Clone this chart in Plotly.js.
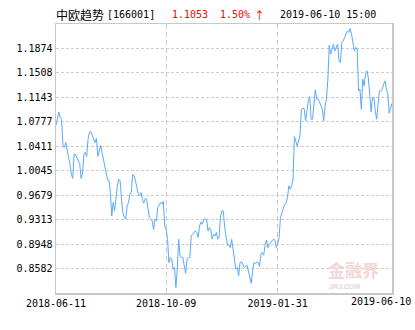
<!DOCTYPE html>
<html>
<head>
<meta charset="utf-8">
<script src="https://cdn.plot.ly/plotly-3.0.1.min.js"></script>
<style>html,body{margin:0;padding:0;background:#fff;}#chart{width:415px;height:330px;}</style>
</head>
<body>
<div id="chart"></div>
<script>
// Trading-day index (0 = 2018-06-11, 241 = 2019-06-10)
const day = [0,2,3,4,5,6,7,8,9,10,11,12,13,14,15,16,17,18,19,20,21,22,23,24,25,26,27,28,29,30,
31,32,33,34,35,36,37,38,39,40,41,42,43,44,45,46,47,48,49,50,51,52,53,54,55,56,57,58,59,60,
61,62,63,64,65,66,67,69,70,71,72,73,75,76,77,78,79,80,81,82,83,84,85,86,87,88,89,90,91,92,
93,94,95,96,97,98,100,101,102,103,104,105,106,107,108,109,110,111,112,113,114,115,116,117,118,119,
120,121,122,123,124,125,126,127,128,129,130,131,132,133,134,135,136,137,138,139,140,141,142,143,
144,145,146,147,148,149,150,151,152,153,154,155,156,157,158,159,160,161,162,163,164,165,166,167,
168,169,170,171,172,173,175,176,177,178,179,180,181,182,183,184,185,186,187,188,189,191,192,193,
194,195,196,197,198,199,200,201,202,203,204,205,206,207,208,209,210,211,212,213,214,215,216,217,
218,219,220,221,222,223,224,225,226,227,228,229,230,231,232,233,234,235,236,237,238,239,241];
// Unit NAV values
const nav = [1.0726,1.0925,1.0841,1.0805,1.0416,1.0392,1.0467,1.0318,1.0243,1.0143,0.9993,0.9929,1.0292,1.0292,1.0228,1.0192,1.0153,0.9929,0.9993,1.0292,1.0318,1.0258,1.0517,1.0626,1.0626,1.0566,1.0527,1.0467,1.0527,1.0258,
1.0342,1.0427,1.0318,1.0217,1.0117,1.0042,0.9908,0.9908,0.9719,0.9369,0.9570,0.9444,0.9694,0.9809,0.9918,0.9893,0.9619,0.9420,0.9345,0.9320,0.9519,0.9570,0.9694,0.9719,0.9993,0.9968,0.9893,0.9809,0.9694,0.9668,
0.9719,0.9619,0.9559,0.9630,0.9619,0.9469,0.9345,0.9294,0.9160,0.9320,0.9294,0.9495,0.9570,0.9544,0.9589,0.9220,0.9170,0.9021,0.8672,0.8747,0.8721,0.8572,0.8597,0.8298,0.8572,0.9021,0.8771,0.8747,0.8747,0.8621,
0.8512,0.8721,0.8747,0.8747,0.9070,0.9095,0.9145,0.9121,0.9046,0.9220,0.9279,0.9245,0.9320,0.9320,0.9320,0.9145,0.9196,0.9170,0.9021,0.9095,0.9070,0.9121,0.9021,0.9046,0.9369,0.9444,
0.9444,0.9195,0.9021,0.8931,0.8938,0.8896,0.9021,0.8846,0.8672,0.8572,0.8597,0.8472,0.8672,0.8681,0.8647,0.8597,0.8612,0.8632,0.8546,0.8472,0.8362,0.8546,0.8672,0.8657,
0.8681,0.8672,0.8612,0.8796,0.8822,0.8781,0.8946,0.9006,0.8896,0.8946,0.8971,0.9010,0.9021,0.9006,0.8896,0.8946,0.9046,0.9345,0.9420,0.9469,0.9544,0.9559,0.9644,0.9818,
0.9769,0.9818,0.9918,1.0557,1.0476,1.0416,1.0566,1.0965,1.0976,1.0976,1.0790,1.0940,1.1090,1.1155,1.0816,1.0816,1.0991,1.1254,1.1115,1.1115,1.1075,1.0965,1.0790,1.1015,
1.1115,1.1414,1.1923,1.1788,1.1863,1.1938,1.1838,1.1888,1.1938,1.1688,1.1664,1.1963,1.1987,1.2038,1.2087,1.2137,1.2113,1.2173,1.2087,1.1963,1.1838,1.1888,1.1874,1.1239,
1.1265,1.0965,1.1414,1.1314,1.1489,1.1538,1.1440,1.1190,1.0925,1.1140,1.1140,1.0940,1.0816,1.1040,1.1239,1.1239,1.1265,1.1339,1.1389,1.1265,1.1190,1.0906,1.1053];

const xTickDays = [0,79,159,241];
const xTickLabels = ["2018-06-11","2018-10-09","2019-01-31","2019-06-10"];
const yTickLabels = ["0.8582","0.8948","0.9313","0.9679","1.0045","1.0411","1.0777","1.1143","1.1508","1.1874"];
const yMin = 0.82162, yMax = 1.22398;

const fundName = "中欧趋势";
const fundCode = "[166001]";
const lastNav = "1.1053";
const change = "1.50%";
const arrow = "↑";
const stamp = "2019-06-10 15:00";

const mono = "DejaVu Sans Mono, Liberation Mono, monospace";
const cjk = "Noto Sans CJK SC, sans-serif";

const trace = {
  x: day, y: nav, type: "scatter", mode: "lines",
  line: {color: "#5aaaf5", width: 1}, hoverinfo: "none"
};

// last tick label is drawn shifted left so that it fits in the picture, as in the original
const shownTicks = xTickLabels.slice(0, 3).concat([""]);

const hy = 1.0335;
const layout = {
  width: 415, height: 330,
  margin: {l: 56, r: 23, t: 24, b: 37, pad: 0},
  paper_bgcolor: "#ffffff", plot_bgcolor: "#ffffff",
  showlegend: false,
  xaxis: {
    range: [0, 241], tickmode: "array", tickvals: xTickDays, ticktext: shownTicks,
    showgrid: true, gridcolor: "#cccccc", gridwidth: 1, griddash: "5px,3px",
    showline: true, mirror: true, linecolor: "#c8c8c8", linewidth: 1.5,
    zeroline: false, ticks: "", fixedrange: true,
    tickfont: {family: mono, size: 10, color: "#000000"}
  },
  yaxis: {
    range: [yMin, yMax], tickmode: "array",
    tickvals: yTickLabels.map(Number), ticktext: yTickLabels,
    showgrid: true, gridcolor: "#cccccc", gridwidth: 1, griddash: "3px,2px",
    showline: true, mirror: true, linecolor: "#c8c8c8", linewidth: 1.5,
    zeroline: false, ticks: "", fixedrange: true,
    tickfont: {family: mono, size: 10, color: "#000000"}
  },
  annotations: [
    {text: fundName, xref: "paper", yref: "paper", x: -0.006, y: hy, xanchor: "left", yanchor: "middle", showarrow: false, font: {family: cjk, size: 12, color: "#000"}},
    {text: fundCode, xref: "paper", yref: "paper", x: 0.146, y: hy, xanchor: "left", yanchor: "middle", showarrow: false, font: {family: mono, size: 10, color: "#000"}},
    {text: lastNav, xref: "paper", yref: "paper", x: 0.339, y: hy, xanchor: "left", yanchor: "middle", showarrow: false, font: {family: mono, size: 10, color: "#ff0000"}},
    {text: change, xref: "paper", yref: "paper", x: 0.482, y: hy, xanchor: "left", yanchor: "middle", showarrow: false, font: {family: mono, size: 10, color: "#ff0000"}},
    {text: arrow, xref: "paper", yref: "paper", x: 0.583, y: hy, xanchor: "left", yanchor: "middle", showarrow: false, font: {family: cjk, size: 11, color: "#ff0000"}},
    {text: stamp, xref: "paper", yref: "paper", x: 0.660, y: hy, xanchor: "left", yanchor: "middle", showarrow: false, font: {family: mono, size: 10, color: "#000"}},
    {text: xTickLabels[3], xref: "paper", yref: "paper", x: 0.967, y: -0.031, xanchor: "center", yanchor: "middle", showarrow: false, font: {family: mono, size: 10, color: "#000"}},
    {text: "<b>金融界</b>", xref: "paper", yref: "paper", x: 0.884, y: 0.088, xanchor: "center", yanchor: "middle", showarrow: false, font: {family: cjk, size: 17, color: "#f3d6d6"}},
    {text: "<b><i>JRJ.COM</i></b>", xref: "paper", yref: "paper", x: 0.806, y: 0.026, xanchor: "left", yanchor: "middle", showarrow: false, font: {family: "Liberation Sans, sans-serif", size: 7, color: "#e8d4d4"}}
  ]
};

Plotly.newPlot("chart", [trace], layout, {staticPlot: true, displayModeBar: false});
</script>
</body>
</html>
